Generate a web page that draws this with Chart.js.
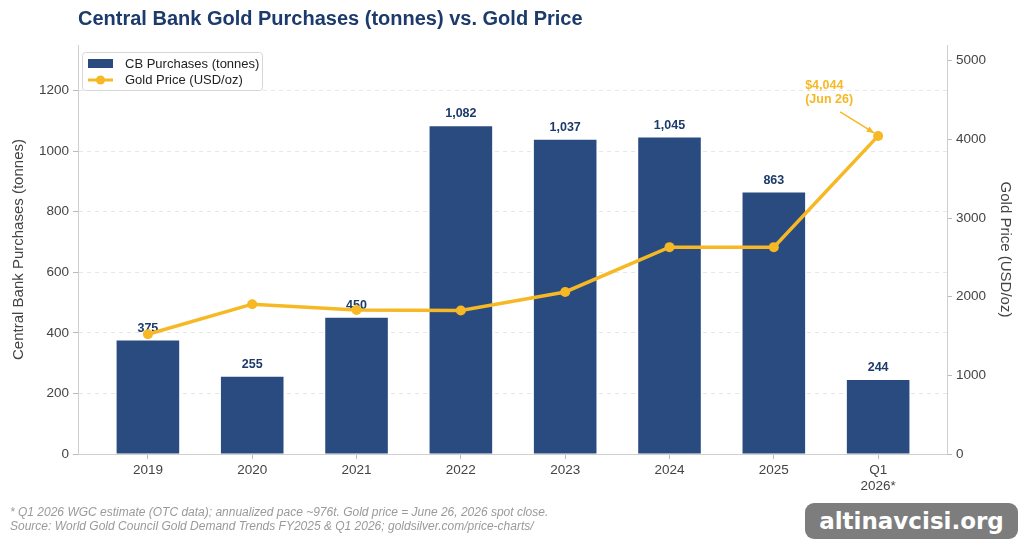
<!DOCTYPE html>
<html>
<head>
<meta charset="utf-8">
<script src="https://cdn.jsdelivr.net/npm/chart.js@4/dist/chart.umd.min.js"></script>
<style>
    html, body { margin: 0; padding: 0; background: #fff; }
    #wrap { position: relative; width: 1024px; height: 544px; }
    #watermark {
        position: absolute; left: 805px; top: 503px; width: 213px; height: 36px;
        background: #7d7d7d; border-radius: 9px; color: #fff;
        font: bold 23px "DejaVu Sans", sans-serif; text-align: center; line-height: 36px;
    }
</style>
</head>
<body>
<div id="wrap">
    <canvas id="gold-chart" width="1024" height="544"></canvas>
    <div id="watermark">altinavcisi.org</div>
</div>
<script>
let years = ['2019', '2020', '2021', '2022', '2023', '2024', '2025', ['Q1', '2026*']];
let cbPurchases = [375, 255, 450, 1082, 1037, 1045, 863, 244];
let goldPrice = [1523, 1905, 1830, 1825, 2060, 2630, 2630, 4044];
let leftTicks = [0, 200, 400, 600, 800, 1000, 1200];
let rightTicks = [0, 1000, 2000, 3000, 4000, 5000];
let footnotes = [
    '* Q1 2026 WGC estimate (OTC data); annualized pace ~976t. Gold price = June 26, 2026 spot close.',
    'Source: World Gold Council Gold Demand Trends FY2025 & Q1 2026; goldsilver.com/price-charts/'
];

const FONT = '"Liberation Sans", Arial, sans-serif';
const NAVY = '#1c3a6b';
const BAR = '#294b7f';
const GOLD = '#f6b824';

// value labels above bars (drawn before the line so the line sits on top)
let barLabels = {
    id: 'barLabels',
    afterDatasetDraw: function (chart, args) {
        if (args.index !== 0) return;
        let ctx = chart.ctx;
        ctx.save();
        ctx.font = 'bold 12.5px ' + FONT;
        ctx.fillStyle = NAVY;
        ctx.textAlign = 'center';
        ctx.textBaseline = 'bottom';
        args.meta.data.forEach((bar, i) => {
            ctx.fillText(cbPurchases[i].toLocaleString('en-US'), bar.x, bar.y - 6);
        });
        ctx.restore();
    }
};

let extras = {
    id: 'extras',
    afterDraw: function (chart) {
        let ctx = chart.ctx;
        let area = chart.chartArea;
        ctx.save();

        // title
        ctx.font = 'bold 20px ' + FONT;
        ctx.fillStyle = NAVY;
        ctx.textAlign = 'left';
        ctx.textBaseline = 'middle';
        ctx.fillText('Central Bank Gold Purchases (tonnes) vs. Gold Price', area.left, 19);

        // legend
        let lx = area.left + 4, ly = area.top + 7;
        ctx.fillStyle = 'rgba(255,255,255,0.85)';
        ctx.strokeStyle = '#d6d6d6';
        ctx.lineWidth = 1;
        ctx.beginPath();
        ctx.roundRect(lx + 0.5, ly + 0.5, 180, 38, 3);
        ctx.fill();
        ctx.stroke();
        ctx.fillStyle = BAR;
        ctx.fillRect(lx + 6, ly + 7, 25, 9);
        ctx.strokeStyle = GOLD;
        ctx.lineWidth = 3;
        ctx.beginPath();
        ctx.moveTo(lx + 6, ly + 28);
        ctx.lineTo(lx + 31, ly + 28);
        ctx.stroke();
        ctx.fillStyle = GOLD;
        ctx.beginPath();
        ctx.arc(lx + 18.5, ly + 28, 4.5, 0, Math.PI * 2);
        ctx.fill();
        ctx.fillStyle = '#222';
        ctx.font = '13px ' + FONT;
        ctx.textBaseline = 'middle';
        ctx.fillText('CB Purchases (tonnes)', lx + 43, ly + 12);
        ctx.fillText('Gold Price (USD/oz)', lx + 43, ly + 28);

        // annotation on last price point
        let pt = chart.getDatasetMeta(1).data[goldPrice.length - 1];
        ctx.fillStyle = GOLD;
        ctx.font = 'bold 12.5px ' + FONT;
        ctx.textBaseline = 'middle';
        ctx.fillText('$' + goldPrice[goldPrice.length - 1].toLocaleString('en-US'), pt.x - 73, pt.y - 50);
        ctx.fillText('(Jun 26)', pt.x - 73, pt.y - 36);
        let sx = pt.x - 38, sy = pt.y - 24, ex = pt.x - 4, ey = pt.y - 3;
        ctx.strokeStyle = GOLD;
        ctx.lineWidth = 1.5;
        ctx.beginPath();
        ctx.moveTo(sx, sy);
        ctx.lineTo(ex, ey);
        ctx.stroke();
        let ang = Math.atan2(ey - sy, ex - sx);
        ctx.beginPath();
        ctx.moveTo(ex, ey);
        ctx.lineTo(ex - 8 * Math.cos(ang - 0.4), ey - 8 * Math.sin(ang - 0.4));
        ctx.lineTo(ex - 8 * Math.cos(ang + 0.4), ey - 8 * Math.sin(ang + 0.4));
        ctx.closePath();
        ctx.fill();

        // footnotes
        ctx.fillStyle = '#9a9a9a';
        ctx.font = 'italic 12px ' + FONT;
        ctx.fillText(footnotes[0], 10, 513);
        ctx.fillText(footnotes[1], 10, 527);
        ctx.restore();
    }
};

let canvas = document.getElementById('gold-chart');
let context = canvas.getContext('2d');
let tickFont = { family: FONT, size: 13.5 };

let chart = new Chart(context, {
    data: {
        datasets: [
            {
                type: 'bar',
                label: 'CB Purchases (tonnes)',
                data: cbPurchases.map((v, i) => ({ x: i, y: v })),
                backgroundColor: BAR,
                borderWidth: 0,
                barPercentage: 0.6,
                categoryPercentage: 1,
                yAxisID: 'y',
                order: 2
            },
            {
                type: 'line',
                label: 'Gold Price (USD/oz)',
                data: goldPrice.map((v, i) => ({ x: i, y: v })),
                borderColor: GOLD,
                backgroundColor: GOLD,
                borderWidth: 3.5,
                pointRadius: 5,
                pointBorderWidth: 0,
                tension: 0,
                yAxisID: 'y1',
                order: 1
            }
        ]
    },
    options: {
        responsive: false,
        animation: false,
        layout: { padding: { top: 45, bottom: 46, left: 0, right: 0 } },
        plugins: {
            legend: { display: false },
            tooltip: { enabled: false }
        },
        scales: {
            x: {
                type: 'linear',
                min: -0.67,
                max: 7.66,
                offset: false,
                afterBuildTicks: (axis) => { axis.ticks = years.map((_, i) => ({ value: i })); },
                afterFit: (axis) => { axis.height = 44; },
                ticks: {
                    callback: (v) => years[v],
                    color: '#444',
                    font: tickFont,
                    maxRotation: 0,
                    padding: 3
                },
                grid: { offset: false, drawOnChartArea: false, drawTicks: true, tickLength: 5, color: '#bbb' },
                border: { color: '#cfcfcf' }
            },
            y: {
                position: 'left',
                min: 0,
                max: 1350,
                afterBuildTicks: (axis) => { axis.ticks = leftTicks.map(v => ({ value: v })); },
                afterFit: (axis) => { axis.width = 78; },
                ticks: { color: '#444', font: tickFont, padding: 4, callback: (v) => String(v) },
                grid: { color: '#e6e6e6', tickLength: 5, tickColor: '#bbb', tickBorderDash: [] },
                border: { color: '#cfcfcf', dash: [4, 4] },
                title: { display: true, text: 'Central Bank Purchases (tonnes)', color: '#444', font: { family: FONT, size: 15 }, padding: 10 }
            },
            y1: {
                position: 'right',
                min: 0,
                max: 5200,
                afterBuildTicks: (axis) => { axis.ticks = rightTicks.map(v => ({ value: v })); },
                afterFit: (axis) => { axis.width = 77; },
                ticks: { color: '#444', font: tickFont, padding: 4, callback: (v) => String(v) },
                grid: { drawOnChartArea: false, tickLength: 5, color: '#bbb' },
                border: { color: '#cfcfcf' },
                title: { display: true, text: 'Gold Price (USD/oz)', color: '#444', font: { family: FONT, size: 15 }, padding: 10 }
            }
        }
    },
    plugins: [barLabels, extras]
});
</script>
</body>
</html>
